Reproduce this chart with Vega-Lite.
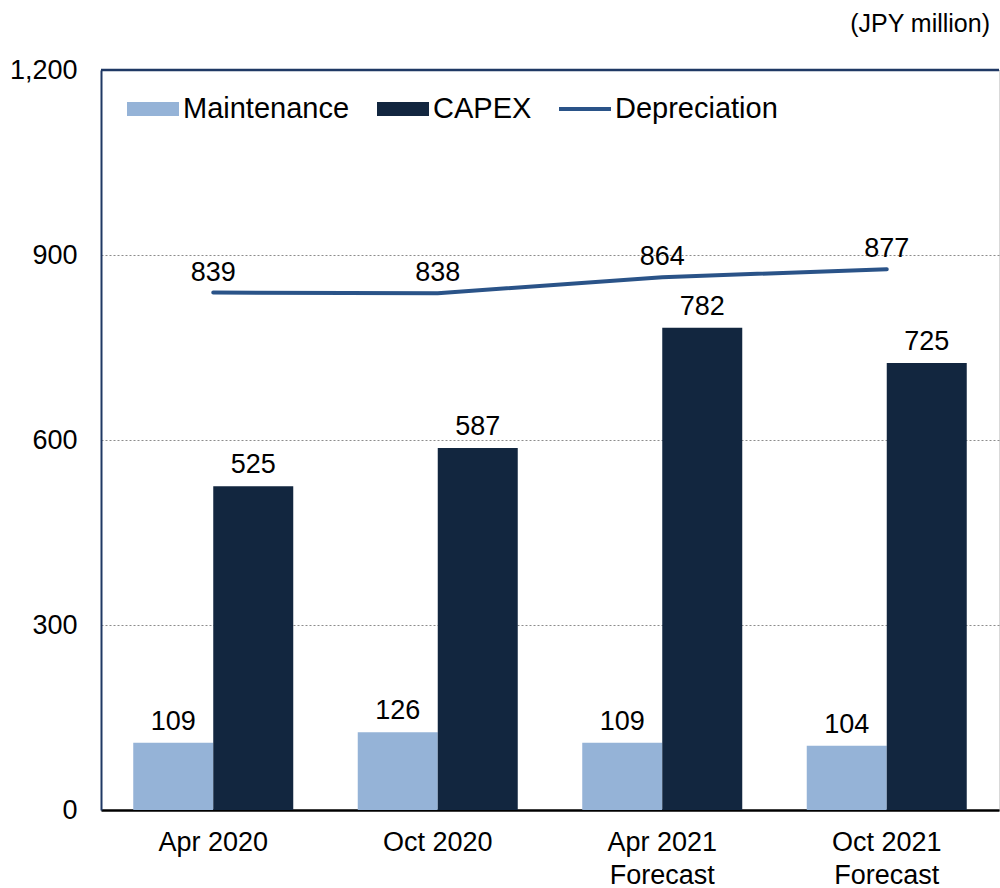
{
  "$schema": "https://vega.github.io/schema/vega-lite/v6.json",
  "width": 898,
  "height": 740,
  "autosize": "none",
  "padding": {"left": 101, "top": 70, "right": 1, "bottom": 78},
  "config": {
    "font": "Liberation Sans",
    "view": {"stroke": "#D9D9D9", "strokeWidth": 1},
    "text": {"font": "Liberation Sans", "fontSize": 27, "fill": "#000000"}
  },
  "title": {
    "text": "(JPY million)",
    "orient": "top",
    "anchor": "end",
    "frame": "group",
    "baseline": "alphabetic",
    "offset": -1,
    "dx": -9,
    "fontSize": 25,
    "fontWeight": "normal",
    "font": "Liberation Sans",
    "color": "#000000"
  },
  "datasets": {
    "bars": [
      {"period": "Apr 2020", "series": "Maintenance", "value": 109},
      {"period": "Apr 2020", "series": "CAPEX", "value": 525},
      {"period": "Oct 2020", "series": "Maintenance", "value": 126},
      {"period": "Oct 2020", "series": "CAPEX", "value": 587},
      {"period": "Apr 2021\nForecast", "series": "Maintenance", "value": 109},
      {"period": "Apr 2021\nForecast", "series": "CAPEX", "value": 782},
      {"period": "Oct 2021\nForecast", "series": "Maintenance", "value": 104},
      {"period": "Oct 2021\nForecast", "series": "CAPEX", "value": 725}
    ],
    "dep": [
      {"period": "Apr 2020", "series": "Depreciation", "value": 839},
      {"period": "Oct 2020", "series": "Depreciation", "value": 838},
      {"period": "Apr 2021\nForecast", "series": "Depreciation", "value": 864},
      {"period": "Oct 2021\nForecast", "series": "Depreciation", "value": 877}
    ],
    "top": [{"level": 1200}]
  },
  "encoding": {
    "x": {
      "field": "period",
      "type": "nominal",
      "sort": ["Apr 2020", "Oct 2020", "Apr 2021\nForecast", "Oct 2021\nForecast"],
      "scale": {"paddingInner": 0.2873, "paddingOuter": 0.14365},
      "axis": {
        "title": null,
        "labelAngle": 0,
        "labelExpr": "split(datum.label, '\\n')",
        "labelFontSize": 27,
        "labelFont": "Liberation Sans",
        "labelColor": "#000000",
        "labelLineHeight": 33,
        "labelPadding": 19,
        "ticks": false,
        "domainColor": "#000000",
        "domainWidth": 2.5,
        "grid": false
      }
    }
  },
  "layer": [
    {
      "data": {"name": "bars"},
      "mark": {"type": "bar"},
      "encoding": {
        "xOffset": {
          "field": "series",
          "type": "nominal",
          "sort": ["Maintenance", "CAPEX"],
          "scale": {"paddingInner": 0, "paddingOuter": 0}
        },
        "y": {
          "field": "value",
          "type": "quantitative",
          "scale": {"domain": [0, 1200], "nice": false},
          "axis": {
            "title": null,
            "values": [0, 300, 600, 900, 1200],
            "format": ",.0f",
            "labelFontSize": 27,
            "labelFont": "Liberation Sans",
            "labelColor": "#000000",
            "labelPadding": 24,
            "ticks": false,
            "domainColor": "#1F3864",
            "domainWidth": 2,
            "grid": true,
            "gridColor": "#8C8C8C",
            "gridDash": [2, 2],
            "gridWidth": 1
          }
        },
        "color": {
          "field": "series",
          "type": "nominal",
          "scale": {
            "domain": ["Maintenance", "CAPEX", "Depreciation"],
            "range": ["#95B3D7", "#12263F", "#2A5388"]
          },
          "legend": {
            "orient": "none",
            "legendX": 26,
            "legendY": 13,
            "direction": "horizontal",
            "title": null,
            "labelFontSize": 29,
            "labelFont": "Liberation Sans",
            "labelColor": "#000000",
            "labelLimit": 400,
            "symbolSize": 2704,
            "labelOffset": 4,
            "columnPadding": 27,
            "padding": 0,
            "encode": {
              "symbols": {
                "update": {
                  "shape": {"signal": "datum.value === 'Depreciation' ? 'M-1,-0.075H1V0.075H-1Z' : 'M-1,-0.27H1V0.27H-1Z'"},
                  "fill": {"signal": "scale('color', datum.value)"},
                  "stroke": {"value": "transparent"},
                  "strokeWidth": {"value": 0},
                  "opacity": {"value": 1},
                  "fillOpacity": {"value": 1}
                }
              }
            }
          }
        }
      }
    },
    {
      "data": {"name": "bars"},
      "mark": {"type": "text", "baseline": "alphabetic", "align": "center", "dy": -13, "fontSize": 27},
      "encoding": {
        "xOffset": {"field": "series", "type": "nominal", "sort": ["Maintenance", "CAPEX"]},
        "y": {"field": "value", "type": "quantitative"},
        "text": {"field": "value", "type": "quantitative"}
      }
    },
    {
      "data": {"name": "dep"},
      "mark": {"type": "line", "strokeWidth": 4, "strokeCap": "round"},
      "encoding": {
        "y": {"field": "value", "type": "quantitative"},
        "color": {"field": "series", "type": "nominal"}
      }
    },
    {
      "data": {"name": "dep"},
      "mark": {"type": "text", "baseline": "alphabetic", "align": "center", "dy": -12, "fontSize": 27},
      "encoding": {
        "y": {"field": "value", "type": "quantitative"},
        "text": {"field": "value", "type": "quantitative"}
      }
    },
    {
      "data": {"name": "top"},
      "mark": {"type": "rule", "color": "#1F3864", "strokeWidth": 2.5},
      "encoding": {
        "x": {"value": 0},
        "x2": {"value": 898},
        "y": {"field": "level", "type": "quantitative"}
      }
    }
  ]
}
